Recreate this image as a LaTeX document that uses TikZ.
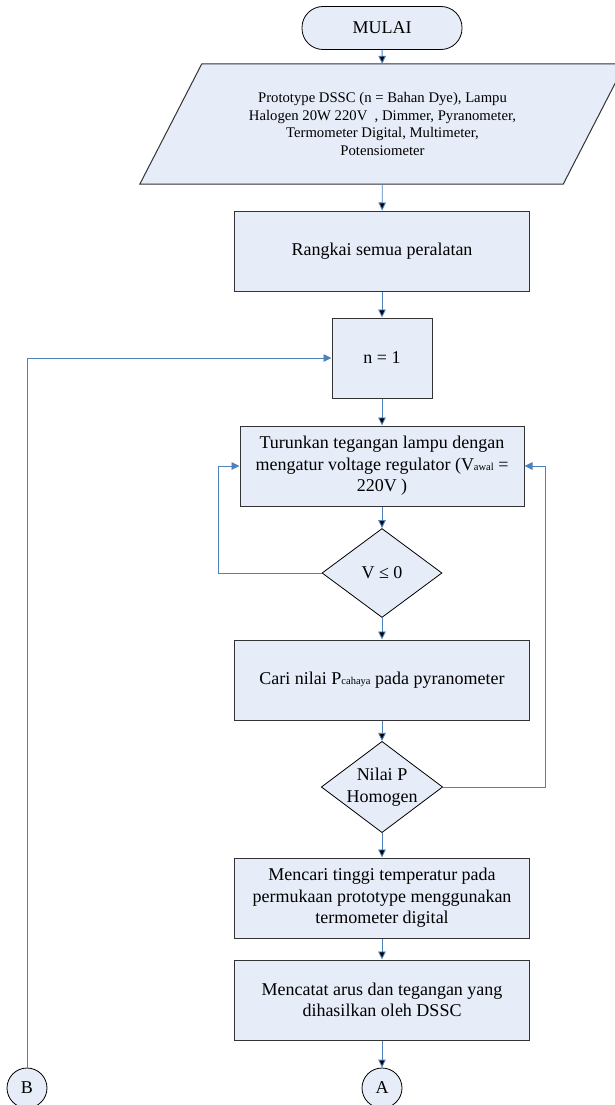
\documentclass[tikz,border=0pt]{standalone}
\usepackage{fontspec}
\setmainfont{Liberation Serif}
\usetikzlibrary{positioning,arrows.meta,shapes.geometric,backgrounds}
\definecolor{boxfill}{HTML}{E6ECF8}
\definecolor{linkblue}{HTML}{4F81BD}
\newcommand{\fbig}{\fontsize{18}{21.5}\selectfont}
\newcommand{\fsmall}{\fontsize{14.7}{17.5}\selectfont}
\newcommand{\sub}[1]{\raisebox{-0.5pt}{\fontsize{10.5}{10.5}\selectfont #1}}
\tikzset{F box/.style={rectangle,fill=boxfill,draw=black!80,line width=1pt,minimum width=295pt,minimum height=80pt,inner sep=2pt,align=center,font=\fbig},
  F dec/.style={diamond,fill=boxfill,draw=black,line width=0.8pt,minimum width=120pt,minimum height=89pt,aspect=1.33,inner sep=0pt,align=center,font=\fbig},
  F end/.style={rectangle,rounded corners=21pt,fill=boxfill,draw=black,line width=0.8pt,minimum width=160pt,minimum height=43pt,font=\fbig},
  F link/.style={circle,fill=boxfill,draw=black,line width=0.8pt,minimum size=40pt,inner sep=0pt,font=\fbig},
  F arrow/.style={draw=linkblue,line width=0.9pt,-{Triangle[length=8pt,width=7.5pt]}},}

\begin{document}
\begin{tikzpicture}[x=1pt,y=-1pt]
	\useasboundingbox (0,0) rectangle (615,1105);

	\node[F end] (mulai) at (382, 28) {MULAI};
	\node[minimum width=361pt,minimum height=120pt,inner sep=0pt,align=center,font=\fsmall] (input) at (382.5, 124)
		{Prototype DSSC (n = Bahan Dye), Lampu\\Halogen 20W 220V\ \ , Dimmer, Pyranometer,\\Termometer Digital, Multimeter,\\Potensiometer};
	\begin{scope}[on background layer]
		\path[fill=boxfill,draw=black!80,line width=1pt]
			(input.north west) -- ([xshift=62pt]input.north east) -- (input.south east) -- ([xshift=-62pt]input.south west) -- cycle;
	\end{scope}
	\node[F box] (rangkai) at (382, 251) {Rangkai semua peralatan};
	\node[F box, minimum width=100pt] (n1) at (382, 358) {n = 1};
	\node[F box, minimum width=284pt] (turun) at (382, 466)
		{Turunkan tegangan lampu dengan\\mengatur voltage regulator (V\sub{awal} =\\220V )};
	\node[F dec] (vcek) at (382, 573) {V ≤ 0};
	\node[F box] (cari) at (382, 680) {Cari nilai P\sub{cahaya} pada pyranometer};
	\node[F dec, minimum height=90pt] (homogen) at (382, 787) {Nilai P\\Homogen};
	\node[F box] (mencari) at (382, 898)
		{Mencari tinggi temperatur pada\\permukaan prototype menggunakan\\termometer digital};
	\node[F box] (catat) at (382, 1000) {Mencatat arus dan tegangan yang\\dihasilkan oleh DSSC};
	\node[F link] (A) at (382, 1088) {A};
	\node[F link] (B) at (27, 1088) {B};

	\path[F arrow]
		(mulai) edge (input)
		(input) edge (rangkai)
		(rangkai) edge (n1)
		(n1) edge (turun)
		(turun) edge (vcek)
		(vcek) edge (cari)
		(cari) edge (homogen)
		(homogen) edge (mencari)
		(mencari) edge (catat)
		(catat) edge (A);

	% loops back
	\draw[F arrow] (vcek.west) -- ++(-103,0) |- (turun.west);
	\draw[F arrow] (homogen.east) -- ++(102,0) |- (turun.east);
	\draw[F arrow] (B.north) |- (n1.west);
\end{tikzpicture}
\end{document}
